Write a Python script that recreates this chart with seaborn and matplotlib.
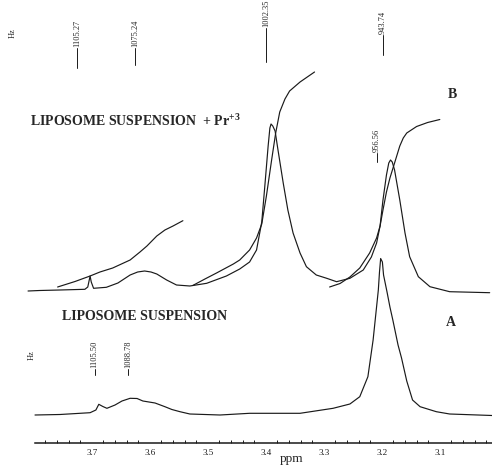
import numpy as np
import pandas as pd
import matplotlib
matplotlib.use("Agg")
import matplotlib.pyplot as plt
import seaborn as sns

# ---- data (x in ppm, y in chart units) ----
ppm_A = [3.798, 3.755, 3.703, 3.693, 3.688, 3.681, 3.674, 3.660, 3.648, 3.634,
         3.622, 3.612, 3.591, 3.574, 3.562, 3.548, 3.531, 3.479, 3.428, 3.341,
         3.284, 3.255, 3.238, 3.224, 3.215, 3.209, 3.206, 3.204, 3.202, 3.199,
         3.197, 3.191, 3.186, 3.181, 3.172, 3.166, 3.157, 3.147, 3.134, 3.106,
         3.083, 3.010]
int_A = [28, 28.5, 30.3, 33, 38.7, 36.5, 34.7, 38, 42, 44.7,
         44.5, 42, 40, 36.3, 33.5, 31.3, 29, 28, 29.7, 29.7,
         34.7, 39, 46.3, 66.3, 103, 136.3, 153, 171, 184.5, 181,
         168, 151, 136, 123, 98, 85, 62, 43, 36.3, 31.3,
         29, 27.5]

ppm_B = [3.810, 3.790, 3.755, 3.712, 3.707, 3.703, 3.701, 3.697, 3.675, 3.655,
         3.634, 3.621, 3.609, 3.598, 3.588, 3.571, 3.554, 3.531, 3.502, 3.468,
         3.445, 3.428, 3.416, 3.407, 3.402, 3.396, 3.393, 3.391, 3.388, 3.384,
         3.379, 3.370, 3.362, 3.353, 3.341, 3.330, 3.313, 3.295, 3.278, 3.255,
         3.232, 3.218, 3.209, 3.203, 3.198, 3.192, 3.188, 3.185, 3.182, 3.178,
         3.169, 3.160, 3.152, 3.137, 3.117, 3.083, 3.014]
int_B = [152, 152.5, 153, 153.7, 156, 167, 161, 154.7, 155.7, 160,
         168, 171, 172, 171, 169, 163, 158, 157, 159.7, 167,
         174, 181, 193, 221, 255, 297, 315, 319, 317, 312,
         293, 260, 233, 210, 190, 176.3, 168, 164.7, 161.3, 164.7,
         173, 186, 200, 217, 243, 268, 280, 283, 281, 273,
         243, 210, 186.3, 166.3, 156.3, 151.3, 150.3]

# integral traces of spectrum B
ppm_I1 = [3.759, 3.729, 3.703, 3.686, 3.664, 3.634, 3.617, 3.605, 3.588, 3.574, 3.560, 3.543]
int_I1 = [156, 161.5, 167, 171, 175, 183, 191, 197, 207, 213, 217, 222.3]
ppm_I2 = [3.526, 3.505, 3.485, 3.456, 3.445, 3.428, 3.416, 3.407, 3.399, 3.390,
          3.383, 3.376, 3.367, 3.359, 3.341, 3.316]
int_I2 = [157.5, 164, 170, 179, 183, 193, 205, 219, 247, 283,
          310, 331, 344, 352, 361, 371]
ppm_I3 = [3.290, 3.272, 3.255, 3.238, 3.221, 3.209, 3.203, 3.198, 3.192, 3.186,
          3.178, 3.169, 3.163, 3.157, 3.140, 3.121, 3.100]
int_I3 = [156, 159.5, 166, 175, 190, 205, 217, 233, 251, 265,
          280, 297, 305, 310, 316.5, 320.5, 323.5]

# peak pickings (Hz) and their ppm positions
peaks_B_hz = ["1105.27", "1075.24", "1002.35", "943.74", "956.56"]
peaks_B_ppm = [3.726, 3.626, 3.400, 3.198, 3.209]
peaks_A_hz = ["1105.50", "1088.78"]
peaks_A_ppm = [3.695, 3.638]

tick_ppm = [3.7, 3.6, 3.5, 3.4, 3.3, 3.2, 3.1]
tick_labels = ["3.7", "3.6", "3.5", "3.4", "3.3", "3.2", "3.1"]

# ---- layout ----
W, H = 492, 468
sns.set_style("white")
plt.rcParams['font.family'] = ['Liberation Serif', 'DejaVu Serif']
plt.rcParams['mathtext.fontset'] = 'custom'
plt.rcParams['mathtext.bf'] = 'Liberation Serif:bold'
plt.rcParams['mathtext.rm'] = 'Liberation Serif'

fig = plt.figure(figsize=(W / 100, H / 100), dpi=100)
ax = fig.add_axes([35 / W, 25 / H, 457 / W, 443 / H])

line_kw = dict(color="#1a1a1a", lw=0.85, sort=False, estimator=None, ax=ax, clip_on=False)
for xs, ys in [(ppm_A, int_A), (ppm_B, int_B), (ppm_I1, int_I1),
               (ppm_I2, int_I2), (ppm_I3, int_I3)]:
    df = pd.DataFrame({"ppm": xs, "y": ys})
    sns.lineplot(data=df, x="ppm", y="y", **line_kw)

ax.set_xlim(3.798, 3.010)
ax.set_ylim(0, 443)
for s in ["left", "right", "top"]:
    ax.spines[s].set_visible(False)
ax.spines["bottom"].set_linewidth(1.1)
ax.spines["bottom"].set_color("#1a1a1a")
ax.set_yticks([])
ax.set_ylabel("")
ax.set_xticks(tick_ppm)
ax.set_xticklabels(tick_labels)
ax.set_xticks(np.arange(3.78, 3.01, -0.02), minor=True)
ax.tick_params(axis="x", which="major", direction="inout", length=5, width=0.8,
               pad=2, labelsize=6.5, colors="#1a1a1a")
ax.tick_params(axis="x", which="minor", direction="in", length=2.5, width=0.7,
               bottom=True, colors="#1a1a1a")
ax.set_xlabel("")
fig.text(292 / W, 1 - 459 / H, "ppm", ha="center", va="center", fontsize=9.5)

# peak labels: (line bottom, line top) in chart units
b_lines = [(375, 395), (378, 395), (381, 415), (388, 408), (281, 290)]
for txt, p, (y0, y1) in zip(peaks_B_hz, peaks_B_ppm, b_lines):
    ax.plot([p, p], [y0, y1], color="#1a1a1a", lw=0.7)
    ax.text(p, y1 + 1, txt, rotation=90, ha="center", va="bottom", fontsize=6)
for txt, p in zip(peaks_A_hz, peaks_A_ppm):
    ax.plot([p, p], [68, 74], color="#1a1a1a", lw=0.7)
    ax.text(p, 75, txt, rotation=90, ha="center", va="bottom", fontsize=6)
fig.text(13 / W, 1 - 33 / H, "Hz", rotation=90, ha="center", va="center", fontsize=6)
fig.text(32 / W, 1 - 355 / H, "Hz", rotation=90, ha="center", va="center", fontsize=6)

fig.text(30 / W, 1 - 121 / H, r"LIPOSOME SUSPENSION  + Pr$^{\mathbf{+3}}$",
         ha="left", va="center", fontsize=10, fontweight="bold")
fig.text(62 / W, 1 - 316 / H, "LIPOSOME SUSPENSION",
         ha="left", va="center", fontsize=10, fontweight="bold")
fig.text(452 / W, 1 - 95 / H, "B", ha="center", va="center", fontsize=10, fontweight="bold")
fig.text(451 / W, 1 - 323 / H, "A", ha="center", va="center", fontsize=10, fontweight="bold")

fig.savefig("out.png", dpi=100)
